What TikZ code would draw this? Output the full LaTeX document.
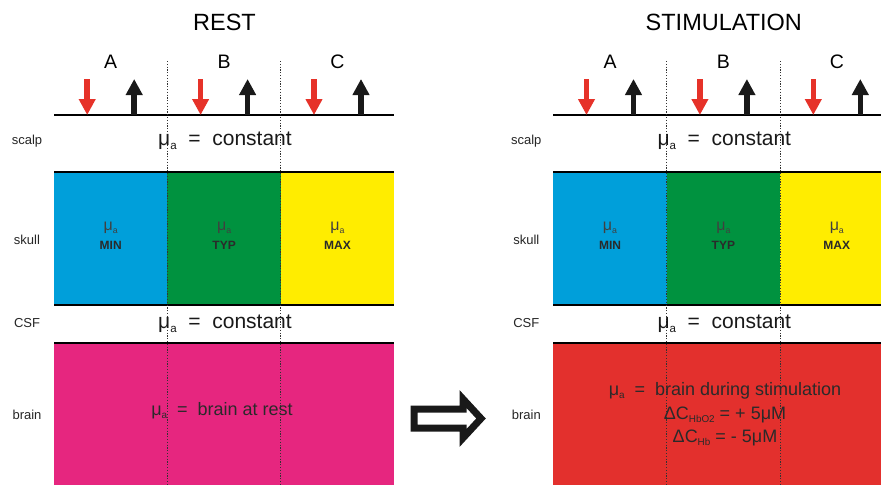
\documentclass[tikz,border=0pt]{standalone}
\usepackage{fontspec}
\setmainfont{Liberation Sans}
\usetikzlibrary{arrows.meta}
\definecolor{cblue}{HTML}{009FDA}
\definecolor{cgreen}{HTML}{00923F}
\definecolor{cyellow}{HTML}{FFED00}
\definecolor{cpink}{HTML}{E6267F}
\definecolor{cred}{HTML}{E3302D}
\definecolor{ared}{HTML}{E63229}
\definecolor{dtext}{HTML}{2A2A2A}
\newcommand{\lowsub}[1]{\raisebox{-0.3ex}{\fontsize{0.55em}{0.6em}\selectfont #1}}
\tikzset{
  layerline/.style={line width=2.2pt, black},
  dotline/.style={line width=0.8pt, black!80, dash pattern=on 1.2pt off 1.6pt},
  inarrow/.style={line width=5.5pt, ared, -{Triangle[width=16pt,length=16pt]}},
  outarrow/.style={line width=5.5pt, black!90, -{Triangle[width=16pt,length=16pt]}},
  ttltext/.style={font=\fontsize{23.5}{26}\selectfont},
  poslabel/.style={font=\fontsize{19.5}{22}\selectfont},
  sidelbl/.style={font=\fontsize{13}{15}\selectfont, text=black!85},
  muatext/.style={font=\fontsize{21}{24}\selectfont, text=black!90},
  skt/.style={font=\fontsize{12}{14}\selectfont\bfseries, text=dtext, align=center, inner sep=0pt},
  brt/.style={font=\fontsize{18}{23}\selectfont, text=dtext, align=center},
}
\begin{document}
\begin{tikzpicture}[x=1pt,y=-1pt]
\useasboundingbox (0,0) rectangle (881,485);
\clip (0,0) rectangle (881,485);
\fill[white] (0,0) rectangle (881,485);
% brain layers
\fill[cpink] (54,343) rectangle (394,485);
\fill[cred] (553.3,343) rectangle (894,485);
\foreach \P/\L/\T in {rest/54/REST, stim/553.3/STIMULATION} {
  % skull regions
  \fill[cblue] (\L,172) rectangle ++(113.4,133);
  \fill[cgreen] (\L+113.4,172) rectangle ++(113.4,133);
  \fill[cyellow] (\L+226.8,172) rectangle ++(113.4,133);
  % layer boundaries
  \draw[layerline] (\L,115) -- ++(340.2,0);
  \draw[layerline] (\L,172) -- ++(340.2,0);
  \draw[layerline] (\L,305) -- ++(340.2,0);
  \draw[layerline] (\L,343) -- ++(340.2,0);
  % dotted separators
  \draw[dotline] (\L+113.4,61) -- (\L+113.4,485);
  \draw[dotline] (\L+226.8,61) -- (\L+226.8,485);
  % title
  \node[ttltext] (\P-title) at (\L+170.5,22) {\T};
  % side labels
  \node[sidelbl] (\P-scalp) at (\L-27,141) {scalp};
  \node[sidelbl] (\P-skull) at (\L-27,240) {skull};
  \node[sidelbl] (\P-csf) at (\L-27,323) {CSF};
  \node[sidelbl] (\P-brain) at (\L-27,415) {brain};
  % constant labels
  \node[muatext] (\P-mscalp) at (\L+171,141) {μ\lowsub{a}\ \ =\ \ constant};
  \node[muatext] (\P-mcsf) at (\L+171,324) {μ\lowsub{a}\ \ =\ \ constant};
  % positions A B C with source/detector arrows
  \foreach \i/\N/\K in {0/A/MIN, 1/B/TYP, 2/C/MAX} {
    \pgfmathsetmacro{\c}{\L+56.7+113.4*\i}
    \node[poslabel] (\P-\N) at (\c,62) {\N};
    \coordinate (\P-\N-in0) at (\c-23.5,79);
    \coordinate (\P-\N-in1) at (\c-23.5,115);
    \coordinate (\P-\N-out0) at (\c+23.5,115);
    \coordinate (\P-\N-out1) at (\c+23.5,79);
    \draw[inarrow] (\P-\N-in0) -- (\P-\N-in1);
    \draw[outarrow] (\P-\N-out0) -- (\P-\N-out1);
    \node[skt, font=\fontsize{16}{17}\selectfont, text=black!75] (\P-\N-mu) at (\c,228) {μ\lowsub{a}};
    \node[skt] (\P-\N-k) at (\c,245) {\K};
  }
}
% brain texts
\node[brt] (rest-btxt) at (222,411) {μ\lowsub{a}\ \ =\ \ brain at rest};
\node[brt, inner sep=0pt] (stim-b1) at (725,391) {μ\lowsub{a}\ \ =\ \ brain during stimulation};
\node[brt, inner sep=0pt] (stim-b2) at (725,415) {ΔC\lowsub{HbO2} = + 5μM};
\node[brt, inner sep=0pt] (stim-b3) at (725,438) {ΔC\lowsub{Hb} = - 5μM};
% central hollow arrow
\draw[line width=7pt, black!90, fill=white, line join=miter]
  (414,409) -- (463,409) -- (463,399) -- (481,418.5) -- (463,438) -- (463,428) -- (414,428) -- cycle;
\end{tikzpicture}
\end{document}
